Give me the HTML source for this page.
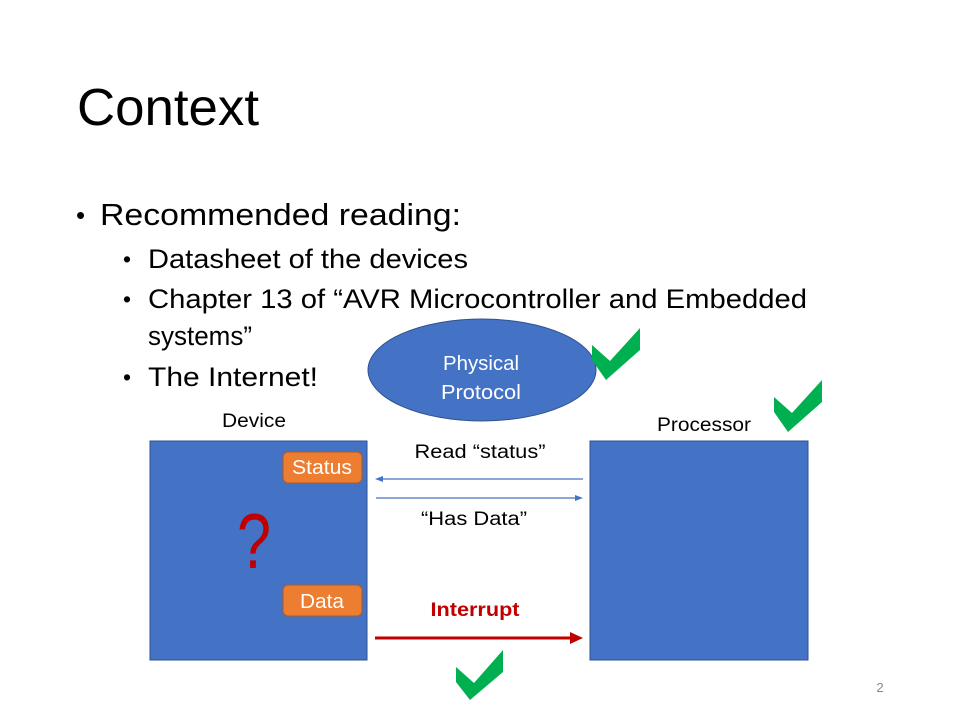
<!DOCTYPE html>
<html><head><meta charset="utf-8"><style>html,body{margin:0;padding:0;background:#fff}svg{display:block}</style></head>
<body>
<svg width="960" height="720" viewBox="0 0 960 720" xmlns="http://www.w3.org/2000/svg" font-family="Liberation Sans, sans-serif">
<rect width="960" height="720" fill="#fff"/>
<text x="77" y="125" font-size="52" textLength="182" lengthAdjust="spacingAndGlyphs">Context</text>
<text x="76" y="224" font-size="26">•</text>
<text x="100" y="225" font-size="31" textLength="361" lengthAdjust="spacingAndGlyphs">Recommended reading:</text>
<g font-size="27">
<text x="123" y="267" font-size="23">•</text>
<text x="148" y="268" textLength="320" lengthAdjust="spacingAndGlyphs">Datasheet of the devices</text>
<text x="123" y="307" font-size="23">•</text>
<text x="148" y="308" textLength="659" lengthAdjust="spacingAndGlyphs">Chapter 13 of “AVR Microcontroller and Embedded</text>
<text x="148" y="345" textLength="104" lengthAdjust="spacingAndGlyphs">systems”</text>
<text x="123" y="385" font-size="23">•</text>
<text x="148" y="386" textLength="170" lengthAdjust="spacingAndGlyphs">The Internet!</text>
</g>
<ellipse cx="482" cy="370" rx="114" ry="51" fill="#4472c4" stroke="#2f528f" stroke-width="1"/>
<text x="481" y="370" font-size="20" fill="#fff" text-anchor="middle" textLength="76" lengthAdjust="spacingAndGlyphs">Physical</text>
<text x="481" y="399" font-size="20" fill="#fff" text-anchor="middle" textLength="80" lengthAdjust="spacingAndGlyphs">Protocol</text>
<text x="254" y="427" font-size="19" text-anchor="middle" textLength="64" lengthAdjust="spacingAndGlyphs">Device</text>
<text x="704" y="431" font-size="19" text-anchor="middle" textLength="94" lengthAdjust="spacingAndGlyphs">Processor</text>
<rect x="150" y="441" width="217" height="219" fill="#4472c4" stroke="#2f528f"/>
<rect x="590" y="441" width="218" height="219" fill="#4472c4" stroke="#2f528f"/>
<rect x="283" y="452" width="79" height="31" rx="5" fill="#ed7d31" stroke="#ae5a21"/>
<text x="322" y="474" font-size="20" fill="#fff" text-anchor="middle" textLength="60" lengthAdjust="spacingAndGlyphs">Status</text>
<rect x="283" y="585" width="79" height="31" rx="5" fill="#ed7d31" stroke="#ae5a21"/>
<text x="322" y="608" font-size="20" fill="#fff" text-anchor="middle" textLength="44" lengthAdjust="spacingAndGlyphs">Data</text>
<text x="254" y="568" font-size="78" fill="#c00000" text-anchor="middle" textLength="34" lengthAdjust="spacingAndGlyphs">?</text>
<text x="480" y="458" font-size="19" text-anchor="middle" textLength="131" lengthAdjust="spacingAndGlyphs">Read “status”</text>
<text x="474" y="525" font-size="19" text-anchor="middle" textLength="106" lengthAdjust="spacingAndGlyphs">“Has Data”</text>
<line x1="583" y1="479" x2="382" y2="479" stroke="#4472c4" stroke-width="1.2"/>
<polygon points="375,479 383,476 383,482" fill="#4472c4"/>
<line x1="376" y1="498" x2="576" y2="498" stroke="#4472c4" stroke-width="1.2"/>
<polygon points="583,498 575,495 575,501" fill="#4472c4"/>
<text x="475" y="616" font-size="19" font-weight="bold" fill="#c00000" text-anchor="middle" textLength="89" lengthAdjust="spacingAndGlyphs">Interrupt</text>
<line x1="375" y1="638" x2="571" y2="638" stroke="#c00000" stroke-width="3"/>
<polygon points="583,638 570,632 570,644" fill="#c00000"/>
<g fill="#00b050">
<polygon transform="translate(592,328)" points="0,17 18,33 48,0 48,22 14,52 0,32"/>
<polygon transform="translate(774,380)" points="0,17 18,33 48,0 48,22 14,52 0,32"/>
<polygon transform="translate(456,650)" points="0,17 18,33 47,0 47,22 14,50 0,32"/>
</g>
<text x="880" y="692" font-size="13" fill="#888" text-anchor="middle">2</text>
</svg>
</body></html>
